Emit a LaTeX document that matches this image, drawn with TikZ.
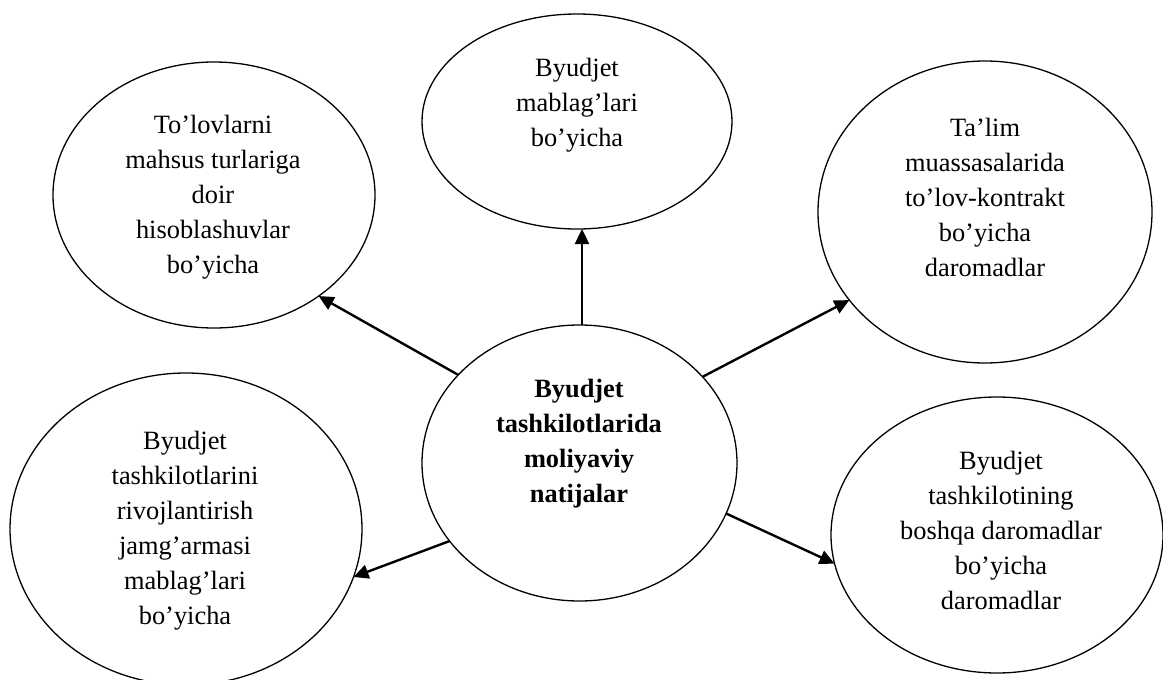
\documentclass[tikz,border=0pt]{standalone}
\usepackage{fontspec}
\setmainfont{Liberation Serif}
\usetikzlibrary{shapes.geometric,arrows.meta}

\tikzset{
  oval/.style={ellipse, draw, line width=1.3pt, inner sep=0pt, outer sep=0pt},
  txt/.style={align=center, inner sep=0pt, font=\fontsize{26.4pt}{35pt}\selectfont},
  link/.style={line width=2.4pt, -{Triangle[length=15pt,width=14pt]}}
}

\begin{document}
\begin{tikzpicture}[x=1pt,y=-1pt]
  \useasboundingbox (0,0) rectangle (1163,680);

  % outline of every category
  \node[oval, minimum width=315pt, minimum height=276pt] (c)  at (579.5,463) {};
  \node[oval, minimum width=310pt, minimum height=215pt] (t)  at (577,121.5) {};
  \node[oval, minimum width=322pt, minimum height=266pt] (tl) at (214,195) {};
  \node[oval, minimum width=334pt, minimum height=302pt] (tr) at (985,212) {};
  \node[oval, minimum width=352pt, minimum height=312pt] (lb) at (186,529) {};
  \node[oval, minimum width=332pt, minimum height=276pt] (rb) at (997,535) {};

  % captions
  \node[txt, font=\fontsize{26.4pt}{35pt}\selectfont\bfseries] (ct) at (579,443)
    {\strut Byudjet\\tashkilotlarida\\moliyaviy\\natijalar\strut};
  \node[txt] (tt) at (577,104)
    {\strut Byudjet\\mablag’lari\\bo’yicha\strut};
  \node[txt] (tlt) at (213,196)
    {\strut To’lovlarni\\mahsus turlariga\\doir\\hisoblashuvlar\\bo’yicha\strut};
  \node[txt] (trt) at (985,199)
    {\strut Ta’lim\\muassasalarida\\to’lov-kontrakt\\bo’yicha\\daromadlar\strut};
  \node[txt] (lbt) at (185,530)
    {\strut Byudjet\\tashkilotlarini\\rivojlantirish\\jamg’armasi\\mablag’lari\\bo’yicha\strut};
  \node[txt] (rbt) at (1001,532)
    {\strut Byudjet\\tashkilotining\\boshqa daromadlar\\bo’yicha\\daromadlar\strut};

  % arrows from the centre outwards
  \draw[link] ([xshift=2.5pt]c.north) -- ([xshift=2.5pt]c.north |- t.south);
  \draw[link] (c.144.8) -- (tl.-44);
  \draw[link] (c.35.8) -- (tr.213);
  \draw[link] (c.-19.8) -- (rb.190.2);
  \draw[link] (c.211.2) -- (lb.-16);
\end{tikzpicture}
\end{document}
